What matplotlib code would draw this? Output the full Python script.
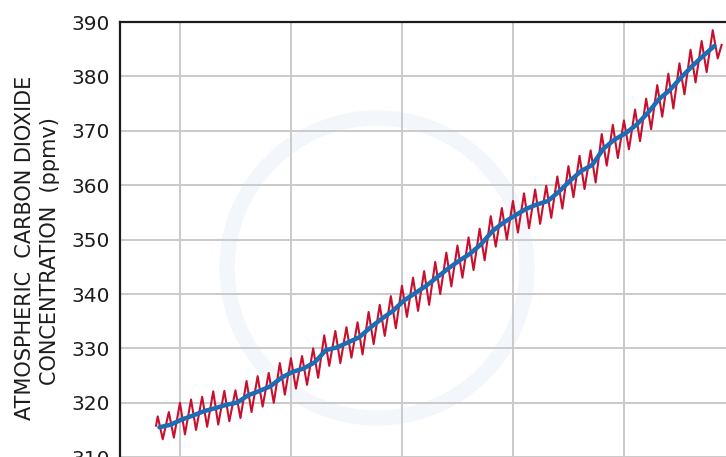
import matplotlib
matplotlib.use("Agg")
import numpy as np
import matplotlib.pyplot as plt
from matplotlib.patches import Circle

# Mauna Loa CO2, ppmv: yearly seasonal maximum (spring) and minimum (autumn)
years = list(range(1958, 2009))
peaks = [317.5, 318.3, 320.0, 320.6, 321.1, 322.1, 322.2, 322.3, 324.0, 324.9,
         325.5, 327.3, 328.2, 328.6, 330.0, 332.4, 333.2, 333.9, 334.8, 336.7,
         338.0, 339.6, 341.5, 343.0, 344.2, 345.9, 347.6, 348.9, 350.4, 352.0,
         354.3, 355.8, 357.1, 358.5, 359.2, 359.9, 361.6, 363.5, 365.4, 366.4,
         369.4, 371.1, 371.9, 373.9, 375.9, 378.4, 380.5, 382.4, 384.9, 386.5,
         388.5]
troughs = [313.3, 313.6, 314.2, 315.0, 315.6, 316.0, 316.6, 317.2, 318.3, 319.3,
           320.0, 321.5, 322.6, 323.3, 324.6, 326.8, 327.3, 328.3, 328.9, 330.8,
           332.3, 333.7, 335.8, 336.9, 338.0, 340.0, 341.4, 343.0, 344.4, 346.2,
           348.7, 350.0, 351.3, 352.1, 352.9, 354.0, 355.7, 357.8, 359.3, 360.5,
           363.6, 365.0, 366.6, 368.1, 370.3, 372.6, 374.1, 376.7, 378.9, 380.8,
           383.3]
first_value = 315.8
last_value = 385.8

# annual mean (trend line)
annual_mean = [315.5, 315.97, 316.91, 317.64, 318.45, 318.99, 319.62, 320.04,
               321.38, 322.16, 323.04, 324.62, 325.68, 326.32, 327.45, 329.68,
               330.18, 331.11, 332.04, 333.83, 335.40, 336.84, 338.75, 340.11,
               341.45, 343.05, 344.65, 346.12, 347.42, 349.19, 351.57, 353.12,
               354.39, 355.61, 356.45, 357.10, 358.83, 360.82, 362.61, 363.73,
               366.70, 368.38, 369.55, 371.14, 373.28, 375.80, 377.52, 379.80,
               381.90, 383.79, 385.60]

y_ticks = [300, 310, 320, 330, 340, 350, 360, 370, 380, 390]
x_grid = [1960, 1970, 1980, 1990, 2000, 2010]

RED = "#c8102e"
BLUE = "#1b6db5"
INK = "#1c1c1c"

W, H = 726, 457
fig = plt.figure(figsize=(W / 100, H / 100), dpi=100)

# axes run off the right and bottom edges of the figure
x0, x1 = 1954.6, 2015.0
y0, y1 = 300, 390
px_year = 11.1
px_ppm = 5.44
left, top = 120, 22
ax = fig.add_axes([left / W, (H - top - (y1 - y0) * px_ppm) / H,
                   (x1 - x0) * px_year / W, (y1 - y0) * px_ppm / H])
ax.set_xlim(x0, x1)
ax.set_ylim(y0, y1)

# seasonal zigzag: spring max, autumn min
t = [1957.85]
v = [first_value]
for yr, p, tr in zip(years, peaks, troughs):
    t += [yr, yr + 0.45]
    v += [p, tr]
t.append(2008.8)
v.append(last_value)

ax.plot(t, v, color=RED, lw=1.5, zorder=3)
ax.plot(np.array(years) + 0.15, annual_mean, color=BLUE, lw=3.2,
        solid_capstyle="round", solid_joinstyle="round", zorder=4)

ax.set_yticks(y_ticks)
ax.set_xticks(x_grid)
ax.set_xticklabels([])
ax.grid(True, color="#cacaca", lw=1.4, zorder=0)
ax.set_axisbelow(True)
ax.tick_params(axis="both", length=0, pad=7, labelsize=14.5, labelcolor=INK)
for s in ["left", "top"]:
    ax.spines[s].set_linewidth(1.6)
    ax.spines[s].set_color(INK)

# faint background ring
ring = Circle((3.77, (H - 268) / 100), 1.50, transform=fig.dpi_scale_trans,
              fill=False, lw=11, edgecolor="#f3f6fa", zorder=-1)
ax.add_patch(ring)

fig.text(25 / W, 1 - 248 / H, "ATMOSPHERIC  CARBON DIOXIDE", rotation=90,
         ha="center", va="center", fontsize=15, color=INK)
fig.text(50 / W, 1 - 251 / H, "CONCENTRATION  (ppmv)", rotation=90,
         ha="center", va="center", fontsize=15, color=INK)

fig.savefig("out.png", dpi=100)
